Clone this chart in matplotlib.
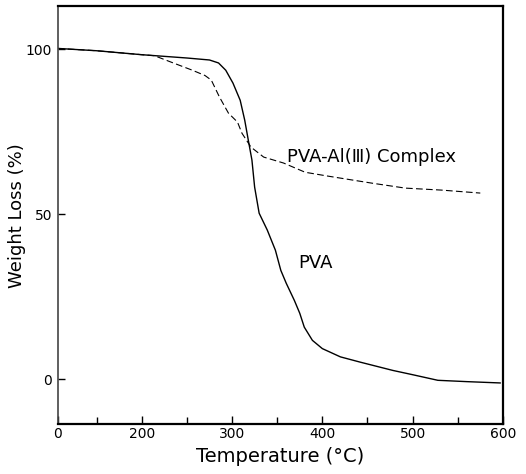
import matplotlib
matplotlib.use("Agg")
from matplotlib import pyplot as plt
from matplotlib.ticker import FixedLocator

# temperature (deg C) and weight (%)
pva_temp = [107, 150, 200, 250, 275, 285, 293, 301, 309, 314, 318, 322, 325, 330,
            339, 348, 354, 360, 369, 375, 380, 389, 400, 420, 442, 478, 500, 528, 560, 597]
pva_weight = [100.2, 99.5, 98.3, 97.3, 96.7, 95.8, 93.6, 89.7, 84.5, 78.5, 72.4, 66.4, 58.2, 50.3,
              45.2, 39.1, 33.0, 29.1, 23.9, 20.0, 15.8, 11.8, 9.3, 6.8, 5.2, 2.7, 1.4, -0.3, -0.7, -1.1]

cplx_temp = [107, 150, 200, 214, 232, 256, 270, 277, 286, 296, 306, 311, 321, 335,
             357, 381, 407, 455, 492, 532, 575]
cplx_weight = [100.2, 99.5, 98.3, 98.0, 96.1, 93.6, 92.0, 90.6, 85.5, 80.6, 77.9, 74.5, 70.3, 67.3,
               65.5, 62.7, 61.5, 59.4, 57.9, 57.3, 56.4]

xticks = [107, 200, 300, 400, 500, 600]
xticklabels = ["0", "200", "300", "400", "500", "600"]
xminor = [150, 250, 350, 450, 550]
yticks = [0, 50, 100]

fig = plt.figure(figsize=(5.26, 4.74), dpi=100)
ax = fig.add_axes([0.110, 0.105, 0.846, 0.882])

ax.plot(pva_temp, pva_weight, color="black", lw=1.0)
ax.plot(cplx_temp, cplx_weight, color="black", lw=0.8, linestyle=(0, (6, 3)))

ax.set_xlim(107, 600)
ax.set_ylim(-13.6, 113)

ax.set_xticks(xticks)
ax.set_xticklabels(xticklabels)
ax.xaxis.set_minor_locator(FixedLocator(xminor))
ax.set_yticks(yticks)

ax.tick_params(axis="both", which="both", direction="in", labelsize=10, width=1.0)
ax.tick_params(axis="x", which="major", length=6, pad=2)
ax.tick_params(axis="x", which="minor", length=5)
ax.tick_params(axis="y", length=5, pad=4)

for side in ["top", "right", "bottom"]:
    ax.spines[side].set_linewidth(1.6)
ax.spines["left"].set_linewidth(1.2)
ax.spines["left"].set_color("#444444")

ax.set_xlabel("Temperature (°C)", fontsize=14, labelpad=4)
ax.set_ylabel("Weight Loss (%)", fontsize=13, labelpad=0)

ax.text(361, 67.3, "PVA-Al(Ⅲ) Complex", fontsize=13, va="center", ha="left")
ax.text(373, 35.2, "PVA", fontsize=13, va="center", ha="left")

fig.savefig("out.png", dpi=100)
